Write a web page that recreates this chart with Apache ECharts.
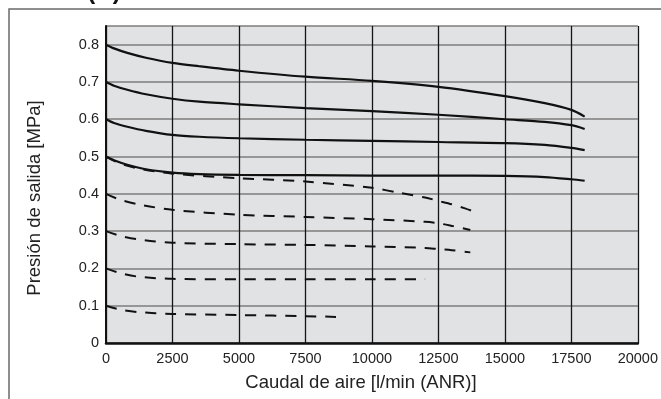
<!DOCTYPE html>
<html>
<head>
<meta charset="utf-8">
<style>
  html, body { margin: 0; padding: 0; background: #fff; }
  #chart { width: 661px; height: 399px; }
</style>
<script src="https://cdn.jsdelivr.net/npm/echarts@6/dist/echarts.min.js"></script>
</head>
<body>
<div id="chart"></div>
<script>
// flow values (l/min ANR) and outlet pressure (MPa)
const xSolid = [0, 300, 800, 1500, 2500, 3500, 5000, 7500, 10000, 12500, 15000, 16500, 17500, 18000]
const p80 = [0.80, 0.790, 0.778, 0.765, 0.751, 0.742, 0.730, 0.714, 0.703, 0.687, 0.662, 0.643, 0.625, 0.607]
const p70 = [0.70, 0.690, 0.679, 0.667, 0.655, 0.647, 0.640, 0.630, 0.622, 0.612, 0.600, 0.593, 0.584, 0.574]
const p60 = [0.60, 0.590, 0.580, 0.569, 0.558, 0.553, 0.549, 0.545, 0.542, 0.539, 0.536, 0.531, 0.523, 0.517]
const p50 = [0.50, 0.490, 0.478, 0.466, 0.457, 0.453, 0.451, 0.450, 0.449, 0.449, 0.448, 0.445, 0.439, 0.435]

const xD50 = [0, 500, 1200, 2500, 5000, 7500, 10000, 11000, 12000, 12500, 13000, 13500, 14000]
const d50 = [0.50, 0.482, 0.468, 0.454, 0.442, 0.433, 0.416, 0.403, 0.390, 0.381, 0.372, 0.361, 0.348]
const xD40 = [0, 500, 1200, 2500, 5000, 7500, 10000, 12000, 12500, 13000, 13700]
const d40 = [0.40, 0.385, 0.372, 0.357, 0.344, 0.338, 0.332, 0.325, 0.321, 0.314, 0.303]
const xD30 = [0, 500, 1200, 2500, 5000, 7500, 10000, 12000, 12500, 13000, 13700]
const d30 = [0.30, 0.288, 0.278, 0.269, 0.265, 0.263, 0.259, 0.255, 0.252, 0.249, 0.243]
const xD20 = [0, 500, 1200, 2500, 5000, 7500, 10000, 12000]
const d20 = [0.20, 0.188, 0.178, 0.172, 0.171, 0.171, 0.171, 0.171]
const xD10 = [0, 500, 1200, 2500, 5000, 7500, 8650]
const d10 = [0.10, 0.090, 0.083, 0.078, 0.075, 0.072, 0.070]

const font = '"Liberation Sans", Arial, sans-serif'

function pairs(xs, ys) {
  return xs.map((x, i) => [x, ys[i]])
}

function curve(xs, ys, dashed) {
  return {
    type: 'line',
    data: pairs(xs, ys),
    smooth: 0.3,
    symbol: 'none',
    silent: true,
    lineStyle: {
      color: '#111',
      width: dashed ? 2 : 2.2,
      type: dashed ? [11, 9] : 'solid'
    }
  }
}

const chart = echarts.init(document.getElementById('chart'))

const option = {
  animation: false,
  backgroundColor: '#fff',
  grid: {
    left: 106,
    top: 26,
    right: 19,
    bottom: 56,
    show: true,
    backgroundColor: '#e1e2e4',
    borderWidth: 0
  },
  xAxis: {
    type: 'value',
    min: 0,
    max: 20000,
    interval: 2500,
    axisLine: { show: true, onZero: false, lineStyle: { color: '#111', width: 2.5 } },
    axisTick: { show: false },
    axisLabel: {
      color: '#222',
      fontSize: 14.5,
      fontFamily: font,
      margin: 8,
      formatter: v => String(v)
    },
    splitLine: { show: true, lineStyle: { color: '#151515', width: 1.3 } }
  },
  yAxis: {
    type: 'value',
    min: 0,
    max: 0.85,
    interval: 0.1,
    axisLine: { show: true, onZero: false, lineStyle: { color: '#111', width: 2 } },
    axisTick: { show: false },
    axisLabel: {
      color: '#222',
      fontSize: 14.5,
      fontFamily: font,
      margin: 7,
      showMaxLabel: false,
      formatter: v => (v === 0 ? '0' : v.toFixed(1))
    },
    splitLine: { show: true, lineStyle: { color: '#7c7c7c', width: 1.5 } }
  },
  series: [
    curve(xSolid, p80, false),
    curve(xSolid, p70, false),
    curve(xSolid, p60, false),
    curve(xSolid, p50, false),
    curve(xD50, d50, true),
    curve(xD40, d40, true),
    curve(xD30, d30, true),
    curve(xD20, d20, true),
    curve(xD10, d10, true)
  ],
  graphic: [
    {
      type: 'polyline',
      shape: { points: [[9, 399], [9, 9], [661, 9]] },
      style: { stroke: '#6a6a6a', lineWidth: 1.5, fill: null },
      silent: true
    },
    {
      type: 'text',
      x: 104,
      y: 4,
      style: {
        text: '(A)',
        font: 'bold 24px ' + font,
        fill: '#111',
        align: 'center',
        verticalAlign: 'bottom'
      },
      silent: true
    },
    {
      type: 'text',
      x: 35,
      y: 198,
      rotation: Math.PI / 2,
      style: {
        text: 'Presión de salida [MPa]',
        font: '18.5px ' + font,
        fill: '#222',
        align: 'center',
        verticalAlign: 'middle'
      },
      silent: true
    },
    {
      type: 'text',
      x: 361,
      y: 383,
      style: {
        text: 'Caudal de aire [l/min (ANR)]',
        font: '18.5px ' + font,
        fill: '#222',
        align: 'center',
        verticalAlign: 'middle'
      },
      silent: true
    }
  ]
}

chart.setOption(option)
</script>
</body>
</html>
